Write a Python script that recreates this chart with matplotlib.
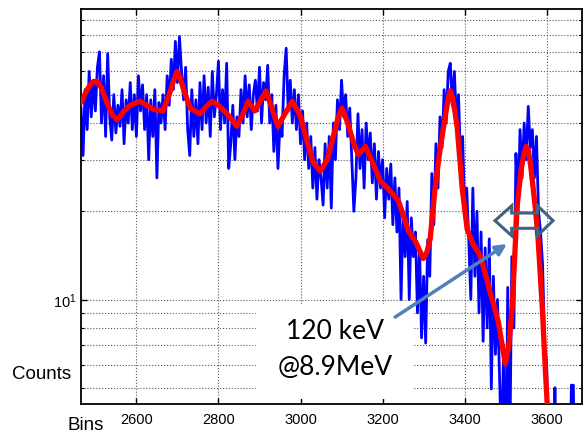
import numpy as np
import matplotlib
matplotlib.use('Agg')
import matplotlib.pyplot as plt
from matplotlib.patches import Rectangle, Polygon
from matplotlib.ticker import FixedLocator, NullFormatter, FixedFormatter

plt.rcParams['font.family'] = ['Liberation Sans', 'DejaVu Sans']
plt.rcParams['mathtext.default'] = 'regular'

# raw counts, one value every 5 bins starting at bin 2465
bin_start = 2465
bin_step = 5
blue_counts = [
    45, 31, 52, 38, 60, 42, 56, 44, 62, 70,
    40, 58, 36, 69, 42, 35, 50, 37, 46, 39,
    52, 34, 48, 40, 55, 38, 50, 36, 58, 44,
    54, 38, 50, 30, 48, 36, 52, 26, 47, 40,
    50, 38, 58, 46, 66, 52, 76, 55, 79, 60,
    48, 62, 38, 31, 52, 36, 48, 34, 55, 38,
    58, 40, 53, 36, 60, 42, 50, 65, 38, 52,
    40, 64, 28, 34, 46, 30, 42, 36, 52, 40,
    58, 42, 54, 38, 50, 56, 44, 62, 40, 55,
    48, 63, 40, 50, 32, 46, 28, 40, 36, 58,
    72, 44, 56, 40, 52, 38, 50, 34, 44, 30,
    40, 28, 36, 24, 33, 22, 30, 26, 21, 34,
    24, 36, 20.5, 40, 30, 48, 38, 56, 42, 50,
    36, 45, 30, 20, 26, 43, 28, 38, 24, 40,
    30, 37, 25, 34, 22, 32, 24, 30, 19, 28,
    22, 29, 18, 26, 17, 24, 10, 20, 14, 21.6,
    10, 19, 14, 17, 9, 15, 7.4, 12, 7.1, 16,
    12, 26.9, 18, 34, 24, 42, 33, 52, 40, 60,
    64, 46, 60, 40, 50, 30, 36, 20, 24, 16,
    10, 24, 12, 20, 9, 17, 7.2, 15, 8, 16.1,
    4.95, 12, 6.5, 10, 5.5, 3, 7, 2, 11, 3,
    14, 8, 31.5, 20, 38, 26, 40, 30, 45.6, 33,
    38, 26, 36, 20, 17, 13.1, 7, 6, 2, 1,
    1, 5, 1, 1, 1, 1, 1, 1, 1, 5.1,
    5.1, 1,
]
bins = bin_start + bin_step * np.arange(len(blue_counts))

# smoothed curve
red_bins = [2465, 2480, 2492, 2503, 2514, 2528, 2540, 2553, 2570, 2585,
            2609, 2625, 2641, 2665, 2680, 2690, 2699, 2707, 2715, 2731,
            2755, 2770, 2784, 2800, 2821, 2845, 2860, 2872, 2889, 2900,
            2916, 2930, 2945, 2962, 2980, 2999, 3015, 3030, 3048, 3065,
            3080, 3092, 3101, 3115, 3130, 3141, 3158, 3175, 3194, 3219,
            3238, 3250, 3263, 3280, 3299, 3308, 3316, 3328, 3338, 3348,
            3356, 3361, 3365, 3370, 3376, 3382, 3394, 3406, 3421, 3438,
            3450, 3462, 3482, 3499, 3508, 3516, 3522, 3528, 3538, 3545,
            3550, 3555, 3561, 3567, 3573, 3579, 3589, 3597, 3605]
red_counts = [47, 52, 55, 55.6, 53, 47, 43, 41, 44, 46,
              47.5, 46, 44.6, 44, 50, 55.5, 59.9, 57, 52, 45,
              43, 45.5, 47.5, 46, 43, 39, 43, 47.5, 44, 47,
              51.5, 45, 39, 43, 47.5, 42.5, 35, 29.5, 27.4, 30,
              36, 42, 45, 40, 34, 31.2, 33.3, 29.5, 25.5, 23.4,
              21.8, 19.5, 17.1, 15.8, 13.8, 14.5, 16.1, 24, 31, 38.4,
              45, 49.5, 51.5, 49, 44, 38.4, 24, 17.4, 15.4, 14.1,
              12.3, 10.6, 8.4, 6.03, 7, 9.5, 14, 20.9, 28, 31.5,
              33.3, 32.5, 28.5, 24, 20, 16.1, 9.5, 5.65, 3.5]

x_ticks = [2600, 2800, 3000, 3200, 3400, 3600]
y_major = [10]
y_major_labels = ['$10^1$']
y_minor = [5, 6, 7, 8, 9, 20, 30, 40, 50, 60, 70, 80, 90]

fig = plt.figure(figsize=(5.83, 4.35), dpi=100)
ax = fig.add_axes([81 / 583, 30 / 435, 501 / 583, 395 / 435])

ax.plot(bins, blue_counts, color='#0000ff', lw=2.0, zorder=2)
ax.plot(red_bins, red_counts, color='#ff0000', lw=3.8,
        solid_joinstyle='round', solid_capstyle='round', zorder=3)

ax.set_yscale('log')
ax.set_xlim(2465, 3686)
ax.set_ylim(4.4, 98)

ax.xaxis.set_major_locator(FixedLocator(x_ticks))
ax.yaxis.set_major_locator(FixedLocator(y_major))
ax.yaxis.set_major_formatter(FixedFormatter(y_major_labels))
ax.yaxis.set_minor_locator(FixedLocator(y_minor))
ax.yaxis.set_minor_formatter(NullFormatter())
ax.xaxis.set_minor_locator(FixedLocator([]))

ax.tick_params(which='both', direction='in', top=True, right=True, labelsize=10.5)
ax.tick_params(which='major', length=4, width=1)
ax.tick_params(which='minor', length=2.5, width=0.8)
ax.tick_params(axis='x', pad=6)
ax.tick_params(axis='y', pad=3)

ax.grid(True, which='both', linestyle=':', color='0.35', linewidth=0.8)
for s in ax.spines.values():
    s.set_linewidth(1.3)

# white box behind the label
ax.add_patch(Rectangle((0.349, 0.013), 0.314, 0.24, transform=ax.transAxes,
                       facecolor='white', edgecolor='none', zorder=1.8))
ax.text(0.507, 0.185, '120 keV', transform=ax.transAxes, ha='center', va='center',
        fontsize=19, family=['Lato', 'DejaVu Sans'], zorder=5)
ax.text(0.507, 0.094, '@8.9MeV', transform=ax.transAxes, ha='center', va='center',
        fontsize=19, family=['Lato', 'DejaVu Sans'], zorder=5)

ax.annotate('', xy=(0.850, 0.405), xytext=(0.627, 0.220),
            xycoords='axes fraction', textcoords='axes fraction',
            arrowprops=dict(arrowstyle='-|>', color='#4f81bd', lw=2.5,
                            mutation_scale=16, shrinkA=0, shrinkB=0),
            zorder=5)

# double-headed outline arrow (width marker)
dbl = [(0.8263, 0.4641), (0.8597, 0.5020), (0.8597, 0.4835), (0.9112, 0.4835),
       (0.9112, 0.5020), (0.9421, 0.4641), (0.9112, 0.4261), (0.9112, 0.4448),
       (0.8597, 0.4448), (0.8597, 0.4261)]
ax.add_patch(Polygon(dbl, closed=True, transform=ax.transAxes, facecolor='none',
                     edgecolor='#44617f', lw=2.2, joinstyle='miter', zorder=6))

fig.text(42 / 583, 1 - 375 / 435, 'Counts', ha='center', va='center', fontsize=13.5)
fig.text(86 / 583, 1 - 426 / 435, 'Bins', ha='center', va='center', fontsize=13.5)

fig.savefig('out.png', dpi=100, facecolor='white')
